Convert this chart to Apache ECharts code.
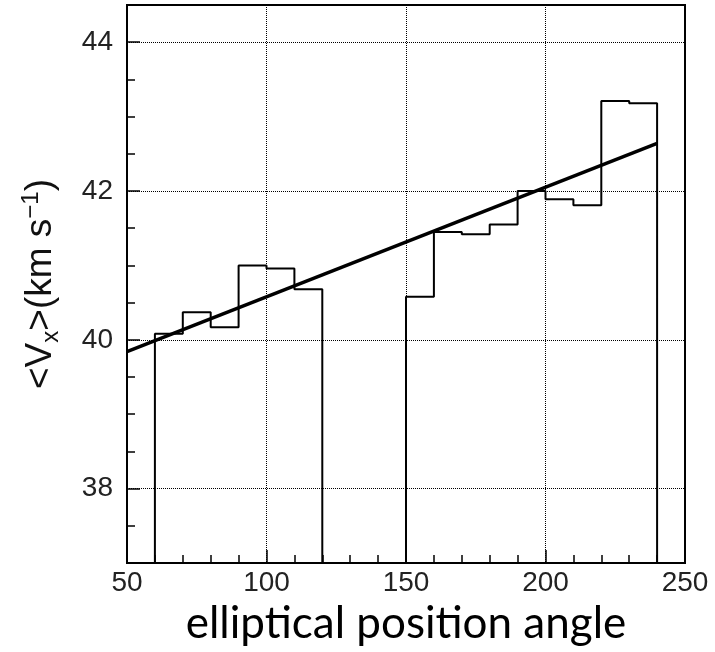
<!DOCTYPE html>
<html>
<head>
<meta charset="utf-8">
<script src="https://cdn.jsdelivr.net/npm/echarts@6/dist/echarts.min.js"></script>
<style>html,body{margin:0;padding:0;background:#fff}#c{width:715px;height:652px}</style>
</head>
<body>
<div id="c"></div>
<script>
// Histogram bins (left edges, width 10) and mean values; null = empty bin
const binStarts = [60, 70, 80, 90, 100, 110, 120, 130, 140, 150, 160, 170, 180, 190, 200, 210, 220, 230];
const binWidth = 10;
const binValues = [40.08, 40.37, 40.17, 41.00, 40.96, 40.68, null, null, null, 40.58, 41.45, 41.42, 41.55, 42.00, 41.89, 41.81, 43.21, 43.18];
// Linear fit end points
const fitX = [50, 240];
const fitY = [39.84, 42.64];
// Axis tick labels
const xTickLabels = [50, 100, 150, 200, 250];
const yTickLabels = [38, 40, 42, 44];
const yMin = 37, yMax = 44.5;

// build step outline segments from bins
function buildSegments() {
  const segs = [];
  let cur = null;
  for (let i = 0; i < binStarts.length; i++) {
    const v = binValues[i];
    if (v == null) {
      if (cur) { segs.push(cur); cur = null; }
      continue;
    }
    if (!cur) { cur = [[binStarts[i], yMin]]; }
    cur.push([binStarts[i], v]);
    const next = binValues[i + 1];
    if (i === binStarts.length - 1 || next == null) {
      cur.push([binStarts[i] + binWidth, v]);
      cur.push([binStarts[i] + binWidth, yMin]);
    }
  }
  if (cur) segs.push(cur);
  return segs;
}
const segments = buildSegments();

const chart = echarts.init(document.getElementById('c'), null, {renderer: 'canvas'});
const labelFont = {fontFamily: 'Liberation Sans', fontSize: 28, color: '#222'};
const series = segments.map(s => ({
  type: 'line', step: 'end', data: s, symbol: 'none', silent: true,
  lineStyle: {color: '#000', width: 2}, z: 3
}));
series.push({
  type: 'line', data: fitX.map((x, i) => [x, fitY[i]]), symbol: 'none', silent: true,
  lineStyle: {color: '#000', width: 3.5}, z: 4
});

chart.setOption({
  animation: false,
  backgroundColor: '#fff',
  grid: {left: 127, top: 5, width: 558, height: 558, show: true, borderColor: '#000', borderWidth: 2, backgroundColor: 'transparent'},
  xAxis: {
    type: 'value', min: 50, max: 250, interval: 50,
    name: 'elliptical position angle', nameLocation: 'middle', nameGap: 34,
    nameTextStyle: {fontFamily: 'Lato', fontSize: 44, color: '#000'},
    axisLine: {show: true, lineStyle: {color: '#000', width: 2}},
    axisTick: {show: true, inside: true, length: 13, lineStyle: {color: '#000', width: 1.5}},
    minorTick: {show: true, splitNumber: 5, length: 8, lineStyle: {color: '#000', width: 1.5}},
    axisLabel: Object.assign({margin: 6, formatter: v => xTickLabels.includes(v) ? String(v) : ''}, labelFont),
    splitLine: {show: true, lineStyle: {color: '#000', width: 1, type: 'dotted'}}
  },
  yAxis: [{
    type: 'value', min: yMin, max: yMax, splitNumber: 4,
    name: '{n|<V}{sub|x}{n|>(km s}{sup|−1}{n|)}', nameLocation: 'middle', nameGap: 64, nameRotate: 90,
    nameTextStyle: {
      rich: {
        n: {fontFamily: 'Liberation Sans', fontSize: 37, color: '#111', lineHeight: 44, verticalAlign: 'middle'},
        sub: {fontFamily: 'Liberation Sans', fontSize: 24, color: '#111', lineHeight: 30, verticalAlign: 'bottom'},
        sup: {fontFamily: 'Liberation Sans', fontSize: 24, color: '#111', lineHeight: 30, verticalAlign: 'top'}
      }
    },
    axisLine: {show: true, lineStyle: {color: '#000', width: 2}},
    axisTick: {show: true, inside: true, length: 13, lineStyle: {color: '#000', width: 1.5}},
    axisLabel: Object.assign({margin: 14, showMinLabel: false, showMaxLabel: false,
      formatter: v => yTickLabels.includes(v) ? String(v) : ''}, labelFont),
    splitLine: {show: true, lineStyle: {color: '#000', width: 1, type: 'dotted'}}
  }, {
    type: 'value', min: yMin, max: yMax, interval: 0.5, position: 'left',
    axisLine: {show: false},
    axisTick: {show: true, inside: true, length: 8, lineStyle: {color: '#000', width: 1.5}},
    axisLabel: {show: false},
    splitLine: {show: false}
  }],
  series: series
});
</script>
</body>
</html>
